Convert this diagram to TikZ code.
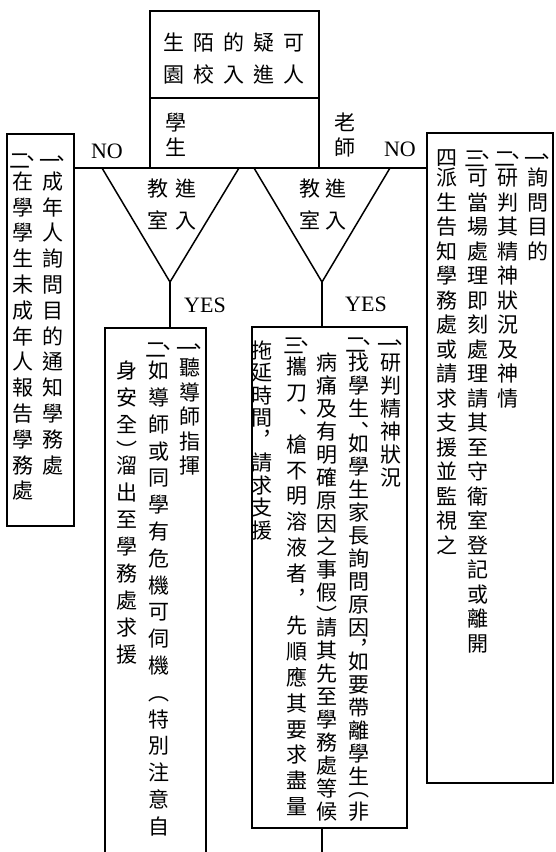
\documentclass[tikz,border=0pt]{standalone}
\usepackage{fontspec}
\setmainfont{Liberation Serif}
\newfontfamily\cjk{Noto Sans CJK TC}
\newdimen\pitch \newdimen\cw
\def\vtend{\vtend}
\newcommand\vt[2]{\pitch=#1\relax\vbox{\offinterlineskip\cjk\cw=1em\relax\vtA#2\vtend}}
\def\vtA#1{\ifx#1\vtend\else\vtB{#1}\expandafter\vtA\fi}
\def\vtB#1{\ifcat\noexpand#1\relax#1\else\fcell{#1}\fi}
\newcommand\fcell[1]{\vbox to\pitch{\vss\hbox to\cw{\hss\smash{\lower.38em\hbox{#1}}\hss}\vss}}
\newcommand\gcell[3]{\vbox to#1\pitch{\vss\hbox to\cw{\hss\smash{\lower#3\hbox{#2}}\hss}\vss}}
\newcommand\ncell[1]{\vbox to.8\pitch{\vss\hbox to\cw{\hss\smash{\lower.5em\hbox{\kern-.15em#1\rlap{\kern-.46em\raise.1em\hbox{、}}\kern.15em}}\hss}\vss}}
\def\nA{\ncell{一}}
\def\nB{\ncell{二}}
\def\nC{\ncell{三}}
\def\nD{\gcell{.8}{四}{.45em}}
\def\hc{\gcell{.5}{︑}{.63em}}
\def\hk{\gcell{.5}{︐}{.63em}}
\def\fc{\fcell{︑}}
\def\fk{\fcell{︐}}
\def\hl{\gcell{.5}{︵}{.13em}}
\def\hr{\gcell{.5}{︶}{.63em}}
\def\fl{\fcell{︵}}
\newcommand\sq[2][30pt]{\makebox[#1][c]{#2}}
\begin{document}
\begin{tikzpicture}[x=1pt,y=-1pt,line width=1.5pt,
  box/.style={draw,rectangle,inner sep=0pt,outer sep=0pt,anchor=north west},
  vtext/.style={inner sep=0pt,anchor=north,font=\cjk\fontsize{21}{24}\selectfont},
  htext/.style={inner sep=0pt,font=\cjk\fontsize{21}{24}\selectfont},
  lat/.style={font=\fontsize{22}{24}\selectfont,inner sep=0pt}]
\useasboundingbox (0,0) rectangle (555,852);
\clip (0,0) rectangle (555,852);
% boxes
\node[box,minimum width=169pt,minimum height=157pt] (top) at (150,11) {};
\node[box,minimum width=67pt,minimum height=392pt] (noL) at (7,134) {};
\node[box,minimum width=126pt,minimum height=650pt] (noR) at (427,133) {};
\node[box,minimum width=101pt,minimum height=600pt] (yesL) at (105,328) {};
\node[box,minimum width=155pt,minimum height=501pt] (yesR) at (252,327) {};
\coordinate (div) at (0,98);
\draw (top.west |- div) -- (top.east |- div);
% decision triangles
\coordinate (tLa) at (102,168); \coordinate (tLb) at (239,168); \coordinate (tLc) at (170,282);
\coordinate (tRa) at (254,168); \coordinate (tRb) at (390,168); \coordinate (tRc) at (322,282);
\draw[line join=miter] (tLa) -- (tLb) -- (tLc) -- cycle;
\draw[line join=miter] (tRa) -- (tRb) -- (tRc) -- cycle;
% connectors
\draw (noL.east |- top.south) -- (top.south west);
\draw (top.south east) -- (noR.west |- top.south);
\draw (tLc) -- (tLc |- yesL.north);
\draw (tRc) -- (tRc |- yesR.north);
\coordinate (bot) at (322,860);
\draw (tRc |- yesR.south) -- (bot);
% labels
\node[lat] (noLl) at (107,151) {NO};
\node[lat] (noRl) at (400,149) {NO};
\node[lat] (yesLl) at (205,305) {YES};
\node[lat] (yesRl) at (366,304) {YES};
% title
\node[htext] (t1) at (234,43) {\sq{生}\sq{陌}\sq{的}\sq{疑}\sq{可}};
\node[htext] (t2) at (234,74) {\sq{園}\sq{校}\sq{入}\sq{進}\sq{人}};
\node[vtext] (stu) at (176,109.5) {\vt{25pt}{學生}};
\node[vtext] (tea) at (345,109.5) {\vt{25pt}{老師}};
% triangle texts
\node[htext] (tl1) at (172,189) {\sq[28pt]{教}\sq[28pt]{進}};
\node[htext] (tl2) at (172,220) {\sq[28pt]{室}\sq[28pt]{入}};
\node[htext] (tr1) at (323,189) {\sq[27pt]{教}\sq[27pt]{進}};
\node[htext] (tr2) at (323,220) {\sq[27pt]{室}\sq[27pt]{入}};
% right NO box
\node[vtext] (rn1) at (538,145.2) {\vt{24.5pt}{\nA 詢問目的}};
\node[vtext] (rn2) at (508,145.2) {\vt{24.5pt}{\nB 研判其精神狀況及神情}};
\node[vtext] (rn3) at (478,145.2) {\vt{24.5pt}{\nC 可當場處理即刻處理請其至守衛室登記或離開}};
\node[vtext] (rn4) at (447,145.2) {\vt{24.5pt}{\nD 派生告知學務處或請求支援並監視之}};
% left NO box
\node[vtext] (ln1) at (53,147) {\vt{25.8pt}{\nA 成年人詢問目的通知學務處}};
\node[vtext] (ln2) at (23,147) {\vt{25.8pt}{\nB 在學學生未成年人報告學務處}};
% left YES box
\node[vtext] (ly1) at (190,335.2) {\vt{24.5pt}{\nA 聽導師指揮}};
\node[vtext] (ly2) at (159,335.2) {\vt{26.8pt}{\nB 如導師或同學有危機可伺機\fl 特別注意自}};
\node[vtext] (ly3) at (127,356.6) {\vt{27pt}{身安全\hr 溜出至學務處求援}};
% right YES box
\node[vtext] (ry1) at (391,332) {\vt{23pt}{\nA 研判精神狀況}};
\node[vtext] (ry2) at (359,332) {\vt{23pt}{\nB 找學生\hc 如學生家長詢問原因\hk 如要帶離學生\hl 非}};
\node[vtext] (ry3) at (327,350.4) {\vt{23pt}{病痛及有明確原因之事假\hr 請其先至學務處等候}};
\node[vtext] (ry4) at (297,332) {\vt{25.9pt}{\nC 攜刀\fc 槍不明溶液者\fk 先順應其要求盡量}};
\node[vtext] (ry5) at (262,338.5) {\vt{22.5pt}{拖延時間\fk 請求支援}};
\end{tikzpicture}
\end{document}
